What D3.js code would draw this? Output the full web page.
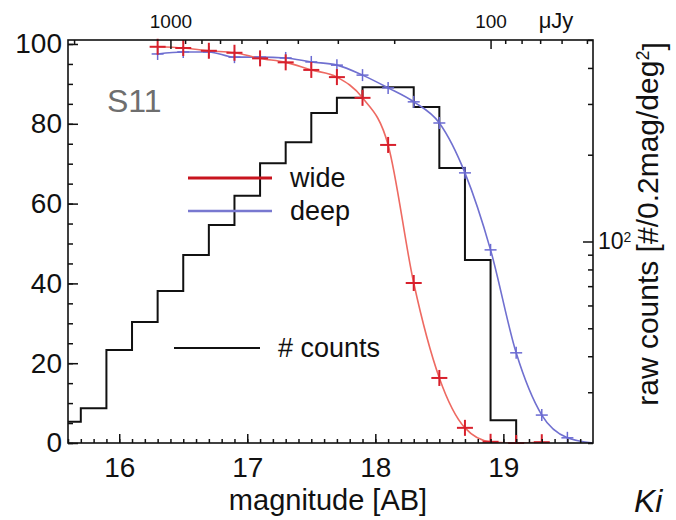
<!DOCTYPE html>
<html>
<head>
<meta charset="utf-8">
<script src="https://cdn.jsdelivr.net/npm/d3@7"></script>
<style>
  body { margin: 0; background: #fff; }
  svg { display: block; }
  text { font-family: "Liberation Sans", Arial, Helvetica, sans-serif; fill: #111; }
</style>
</head>
<body>
<svg id="chart" width="676" height="520"></svg>
<script>
// ---- data -------------------------------------------------------------
// bottom axis (AB magnitude)
const magTicks = [16, 17, 18, 19];
// left axis: completeness in per cent
const pctTicks = [0, 20, 40, 60, 80, 100];
// top axis: flux density in microjansky
const fluxMajor = [1000, 100];
const fluxMinor = [2000, 900, 800, 700, 600, 500, 400, 300, 200, 90, 80, 70, 60, 50];
// right axis: raw source counts per 0.2 mag per deg^2 (log)
const countMajor = [100];
const countMinor = [20, 30, 40, 50, 60, 70, 80, 90, 200, 300, 400, 500];

// histogram of raw counts: left bin edge (mag) and count
const binLo  = [15.5, 15.7, 15.9, 16.1, 16.3, 16.5, 16.7, 16.9, 17.1, 17.3,
                17.5, 17.7, 17.9, 18.1, 18.3, 18.5, 18.7, 18.9, 19.1];
const counts = [23.7, 26.4, 42.0, 52.6, 67.3, 89.8, 114, 144, 187, 221,
                279, 315, 343, 343, 293, 180, 86.3, 24.0, 10];
const binWidth = 0.2;

// completeness of the wide survey (%)
const wideMag = [16.3, 16.5, 16.7, 16.9, 17.1, 17.3, 17.5, 17.7, 17.9, 18.1,
                 18.3, 18.5, 18.7, 18.9, 19.1, 19.3];
const wide    = [99.3, 99.0, 98.3, 97.8, 96.4, 95.4, 93.5, 91.7, 86.5, 74.7,
                 40.1, 16.3, 3.8, 0.3, 0.0, 0.2];
// completeness of the deep survey (%)
const deepMag = [16.3, 16.5, 16.7, 16.9, 17.1, 17.3, 17.5, 17.7, 17.9, 18.1,
                 18.3, 18.5, 18.7, 18.9, 19.1, 19.3, 19.5];
const deep    = [97.5, 98.0, 98.0, 96.7, 96.7, 96.5, 95.5, 94.7, 92.2, 89.0,
                 85.5, 80.2, 67.7, 48.4, 22.6, 7.0, 1.3];
// fitted deep curve runs on to the edge of the plot
const deepTailMag = [19.7];
const deepTail    = [0.0];

// ---- layout -----------------------------------------------------------
const L = 68, R = 593, T = 40, B = 443;
const svg = d3.select("#chart");

const x = d3.scaleLinear().domain([15.6, 19.7]).range([L, R]);
const yPct = d3.scaleLinear().domain([0, 101]).range([B, T]);
const yCnt = d3.scaleLog().domain([20, 500]).range([B, T]).clamp(true);
// flux (uJy) is log-linear in AB magnitude: m = 23.9 - 2.5 log10(f)
const magToFlux = m => Math.pow(10, (23.9 - m) / 2.5);
const xFlux = d3.scaleLog().domain([magToFlux(15.6), magToFlux(19.7)]).range([L, R]);

svg.append("defs").append("clipPath").attr("id", "plot")
  .append("rect").attr("x", L).attr("y", T - 2).attr("width", R - L).attr("height", B - T + 2);

// ---- histogram --------------------------------------------------------
const histPts = [];
binLo.forEach((lo, i) => {
  histPts.push([lo, counts[i]]);
  histPts.push([lo + binWidth, counts[i]]);
});
svg.append("path")
  .attr("clip-path", "url(#plot)")
  .attr("d", d3.line().x(d => x(d[0])).y(d => yCnt(d[1]))(histPts))
  .attr("fill", "none").attr("stroke", "#111").attr("stroke-width", 2);

// ---- completeness curves ---------------------------------------------
const curve = d3.line().curve(d3.curveMonotoneX).x(d => x(d[0])).y(d => yPct(d[1]));
const widePts = wideMag.map((m, i) => [m, wide[i]]);
const deepPts = deepMag.map((m, i) => [m, deep[i]]);
const deepLine = deepPts.concat(deepTailMag.map((m, i) => [m, deepTail[i]]));

svg.append("path").attr("clip-path", "url(#plot)").attr("d", curve(deepLine))
  .attr("fill", "none").attr("stroke", "#7070d0").attr("stroke-width", 1.6);
svg.append("path").attr("clip-path", "url(#plot)").attr("d", curve(widePts))
  .attr("fill", "none").attr("stroke", "#ee6a62").attr("stroke-width", 1.6);

function crosses(pts, size, color, width) {
  const g = svg.append("g").attr("stroke", color).attr("stroke-width", width);
  pts.forEach(p => {
    const cx = x(p[0]), cy = yPct(p[1]);
    g.append("line").attr("x1", cx - size).attr("x2", cx + size).attr("y1", cy).attr("y2", cy);
    g.append("line").attr("x1", cx).attr("x2", cx).attr("y1", cy - size).attr("y2", Math.min(cy + size, B));
  });
}
crosses(deepPts, 6, "#6a6ad2", 1.5);
crosses(widePts, 8, "#d8202c", 2);

// ---- frame and axes ---------------------------------------------------
svg.append("rect").attr("x", L).attr("y", T).attr("width", R - L).attr("height", B - T)
  .attr("fill", "none").attr("stroke", "#111").attr("stroke-width", 1.6);

function styleAxis(g) {
  g.select(".domain").remove();
  g.selectAll(".tick line").attr("stroke", "#111").attr("stroke-width", 1.5);
  g.selectAll("text").attr("font-size", 28).attr("fill", "#111")
    .attr("font-family", "Liberation Sans, Arial, sans-serif");
}

// bottom
svg.append("g").attr("transform", `translate(0,${B})`)
  .call(d3.axisBottom(x).tickValues(d3.range(156, 197).map(v => v / 10)).tickSize(-4).tickFormat(""))
  .call(styleAxis);
svg.append("g").attr("transform", `translate(0,${B})`)
  .call(d3.axisBottom(x).tickValues(magTicks).tickSize(-9).tickPadding(14).tickFormat(d3.format("d")))
  .call(styleAxis);

// left
svg.append("g").attr("transform", `translate(${L},0)`)
  .call(d3.axisLeft(yPct).tickValues(d3.range(0, 101, 5)).tickSize(-5).tickFormat(""))
  .call(styleAxis);
svg.append("g").attr("transform", `translate(${L},0)`)
  .call(d3.axisLeft(yPct).tickValues(pctTicks).tickSize(-10).tickPadding(6).tickFormat(d3.format("d")))
  .call(styleAxis);

// top
svg.append("g").attr("transform", `translate(0,${T})`)
  .call(d3.axisTop(xFlux).tickValues(fluxMinor).tickSize(-4).tickFormat(""))
  .call(styleAxis);
const topAx = svg.append("g").attr("transform", `translate(0,${T})`)
  .call(d3.axisTop(xFlux).tickValues(fluxMajor).tickSize(-9).tickPadding(12).tickFormat(d3.format("d")))
  .call(styleAxis);
topAx.selectAll("text").attr("font-size", 19);
svg.append("text").attr("x", 556).attr("y", 28).attr("text-anchor", "middle")
  .attr("font-size", 22).text("\u03bcJy");

// right
svg.append("g").attr("transform", `translate(${R},0)`)
  .call(d3.axisRight(yCnt).tickValues(countMinor).tickSize(-5).tickFormat(""))
  .call(styleAxis);
const rightAx = svg.append("g").attr("transform", `translate(${R},0)`)
  .call(d3.axisRight(yCnt).tickValues(countMajor).tickSize(-10).tickPadding(5).tickFormat(() => "10"))
  .call(styleAxis);
rightAx.selectAll("text").attr("font-size", 23)
  .append("tspan").attr("dy", "-0.55em").attr("font-size", 14).text("2");

// ---- labels -----------------------------------------------------------
svg.append("text").attr("x", 328).attr("y", 510).attr("text-anchor", "middle")
  .attr("font-size", 29).text("magnitude [AB]");

const rl = svg.append("text")
  .attr("transform", "translate(658,224) rotate(-90)")
  .attr("text-anchor", "middle").attr("font-size", 30);
rl.append("tspan").text("raw counts [#/0.2mag/deg");
rl.append("tspan").attr("dy", "-0.5em").attr("font-size", 18).text("2");
rl.append("tspan").attr("dy", "0.5em").text("]");

svg.append("text").attr("x", 107).attr("y", 112).attr("font-size", 32)
  .attr("fill", "#6e6e6e").style("fill", "#6e6e6e").text("S11");

// legend
const legend = [
  { label: "wide", color: "#c8141e", w: 3, x1: 188, x2: 272, y: 178, tx: 290 },
  { label: "deep", color: "#7878d0", w: 2.5, x1: 188, x2: 272, y: 211, tx: 290 },
  { label: "# counts", color: "#111", w: 2, x1: 174, x2: 260, y: 348, tx: 278 }
];
legend.forEach(d => {
  svg.append("line").attr("x1", d.x1).attr("x2", d.x2).attr("y1", d.y).attr("y2", d.y)
    .attr("stroke", d.color).attr("stroke-width", d.w);
  svg.append("text").attr("x", d.tx).attr("y", d.y).attr("dy", "0.35em")
    .attr("font-size", 27).text(d.label);
});

// caption fragment at the lower right
svg.append("text").attr("x", 634).attr("y", 512)
  .attr("font-family", "Liberation Serif, DejaVu Serif, serif").attr("font-style", "italic")
  .attr("font-size", 32).text("Ki");
</script>
</body>
</html>
